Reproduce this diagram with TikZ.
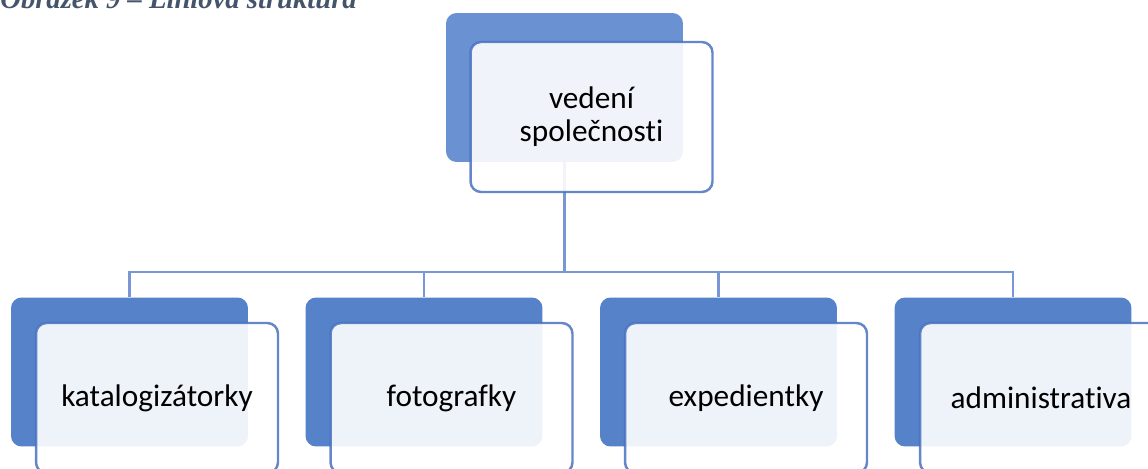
\documentclass[tikz,border=0pt]{standalone}
\usepackage{fontspec}
\setmainfont{Carlito}[Ligatures=NoCommon]
\newfontfamily\captionfont{Liberation Serif}
\usepackage{tikz}
\usetikzlibrary{positioning}

\definecolor{backblue}{HTML}{5682CA}
\definecolor{topblue}{HTML}{6A91D2}
\definecolor{frontline}{HTML}{4A72C0}
\definecolor{linkblue}{HTML}{7B96D4}
\definecolor{capgray}{HTML}{44546A}

\begin{document}
\begin{tikzpicture}[x=0.02cm,y=-0.02cm]
    \useasboundingbox (0,0) rectangle (1148,469);
    \node[anchor=base west,inner sep=0pt,text=capgray,font=\captionfont\bfseries\itshape\fontsize{16.3}{19}\selectfont] (cap) at (0,9) {Obrázek 9 – Liniová struktura};
    % back boxes
    \begin{scope}[every node/.style={rounded corners=6pt,minimum width=4.74cm,minimum height=2.98cm,inner sep=0pt,fill=backblue}]
      \node[fill=topblue] (vedeniB) at (564.5,87.5) {};
      \node (katB) at (129.5,372) {};
      \node (fotoB) at (424,372) {};
      \node (expB) at (718.5,372) {};
      \node (admB) at (1013,372) {};
    \end{scope}
    % connectors
    \coordinate (bus) at (565,272);
    \begin{scope}[every path/.style={draw=linkblue,line width=1.2pt}]
      \foreach \c in {katB,fotoB,expB,admB}
        \draw (vedeniB.south) -- (vedeniB.south |- bus) -| (\c.north);
    \end{scope}
    % front boxes
    \begin{scope}[every node/.style={rounded corners=6pt,minimum width=4.84cm,minimum height=3cm,inner sep=2pt,
        fill=white,fill opacity=0.9,text opacity=1,draw=frontline,draw opacity=0.85,line width=1.4pt,
        align=center,font=\fontsize{17.8}{18.7}\selectfont}]
      \node (vedeni) at (591.5,117) {vedení\\společnosti};
      \node (kat) at (157,398) {katalogizátorky};
      \node (foto) at (451.5,398) {fotografky};
      \node (exp) at (746,398) {expedientky};
      \node (adm) at (1041,398) {administrativa};
    \end{scope}
\end{tikzpicture}
\end{document}
